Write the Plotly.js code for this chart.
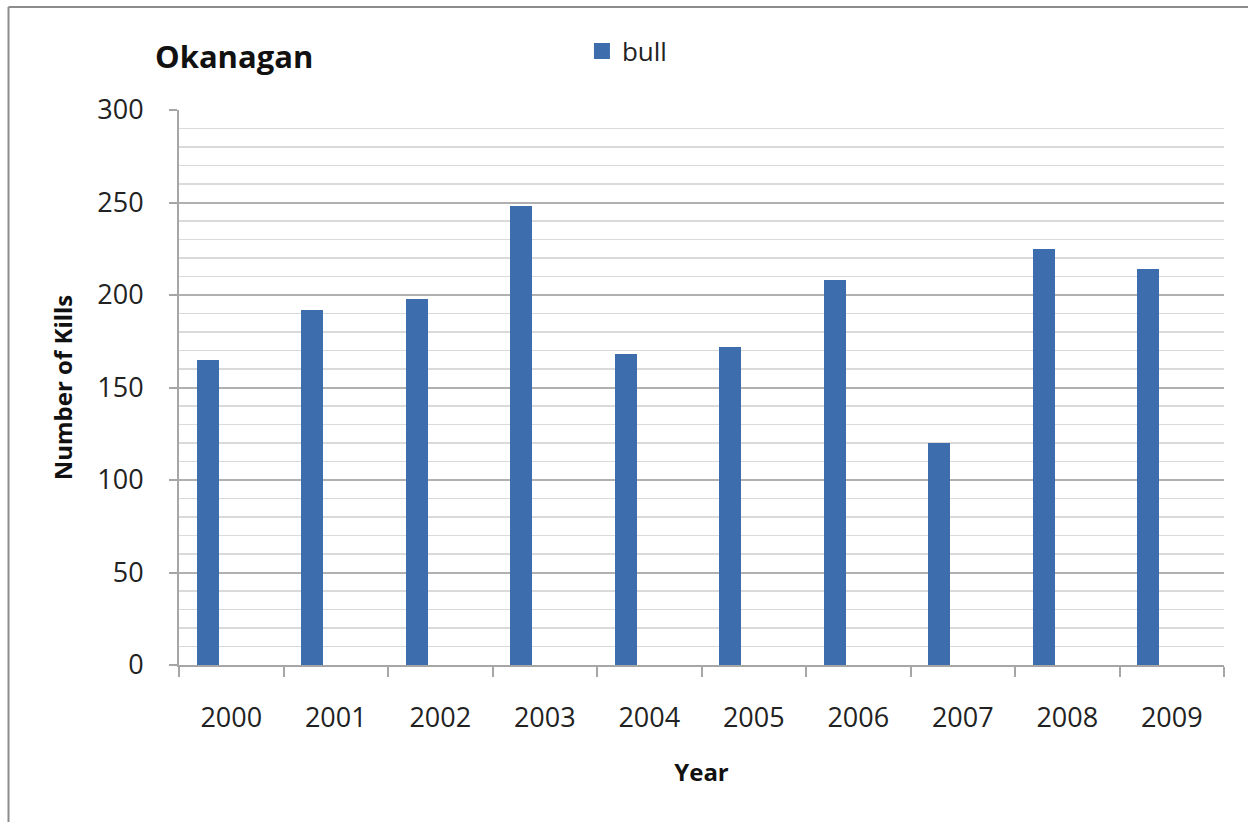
<!DOCTYPE html>
<html>
<head>
<meta charset="utf-8">
<script src="https://cdn.plot.ly/plotly-3.0.1.min.js"></script>
<style>
  html, body { margin: 0; padding: 0; background: #ffffff; }
  #chart { width: 1248px; height: 822px; }
</style>
</head>
<body>
<div id="chart"></div>
<script>
// Okanagan bull kills per year
const years = ['2000', '2001', '2002', '2003', '2004', '2005', '2006', '2007', '2008', '2009'];
const bullKills = [165, 192, 198, 248, 168, 172, 208, 120, 225, 214];
const seriesName = 'bull';
const yTicks = [0, 50, 100, 150, 200, 250, 300];

const FONT = 'Open Sans, Noto Sans, sans-serif';
const TEXT = '#404040';
const BAR = '#3D6DAC';

const trace = {
  type: 'bar',
  name: seriesName,
  x: years,
  y: bullKills,
  offset: -0.33,
  width: 0.21,
  marker: { color: BAR, line: { width: 0 } },
  hoverinfo: 'x+y'
};

const layout = {
  width: 1248,
  height: 822,
  margin: { l: 179, r: 24, t: 110, b: 157 },
  paper_bgcolor: '#ffffff',
  plot_bgcolor: '#ffffff',
  font: { family: FONT, color: TEXT },
  title: {
    text: 'Okanagan',
    font: { family: FONT, size: 31, color: '#111111', weight: 'bold' },
    xref: 'container', yref: 'container',
    x: 155 / 1248, xanchor: 'left',
    y: 1 - 57 / 822, yanchor: 'middle'
  },
  showlegend: true,
  legend: {
    orientation: 'h',
    x: 0.3856, xanchor: 'left',
    y: 1.106, yanchor: 'middle',
    font: { family: FONT, size: 26, color: '#222222' },
    bgcolor: 'rgba(0,0,0,0)'
  },
  xaxis: {
    type: 'category',
    categoryorder: 'array',
    categoryarray: years,
    range: [-0.5, years.length - 0.5],
    showline: true,
    linecolor: '#a6a6a6',
    linewidth: 2,
    ticks: 'outside',
    tickson: 'boundaries',
    ticklen: 10,
    tickwidth: 2,
    tickcolor: '#a6a6a6',
    ticklabelstandoff: 28,
    tickfont: { family: FONT, size: 27, color: '#222222' },
    showgrid: false,
    zeroline: false,
    fixedrange: true,
    title: {
      text: 'Year',
      font: { family: FONT, size: 24, color: '#111111', weight: 'bold' },
      standoff: 30
    }
  },
  yaxis: {
    range: [0, 300],
    tickvals: yTicks,
    ticktext: yTicks.map(String),
    showline: true,
    linecolor: '#a6a6a6',
    linewidth: 2,
    ticks: 'outside',
    ticklen: 8,
    tickwidth: 2,
    tickcolor: '#a6a6a6',
    ticklabelstandoff: 20,
    tickfont: { family: FONT, size: 27, color: '#222222' },
    showgrid: true,
    gridcolor: '#b0b0b0',
    gridwidth: 2,
    minor: {
      dtick: 10,
      showgrid: true,
      gridcolor: '#dadada',
      gridwidth: 1.5,
      ticks: ''
    },
    zeroline: false,
    fixedrange: true,
    title: {
      text: 'Number of Kills',
      font: { family: FONT, size: 24, color: '#111111', weight: 'bold' },
      standoff: 18
    }
  },
  bargap: 0,
  shapes: [
    // chart frame: left and top edges
    {
      type: 'line', xref: 'paper', yref: 'paper',
      x0: (8.5 - 179) / 1045, x1: (8.5 - 179) / 1045,
      y0: (665 - 830) / 555, y1: (665 - 7) / 555,
      line: { color: '#8c8c8c', width: 2 }
    },
    {
      type: 'line', xref: 'paper', yref: 'paper',
      x0: (8.5 - 179) / 1045, x1: (1260 - 179) / 1045,
      y0: (665 - 7) / 555, y1: (665 - 7) / 555,
      line: { color: '#8c8c8c', width: 2 }
    }
  ]
};

Plotly.newPlot('chart', [trace], layout, { displayModeBar: false, staticPlot: true })
  .then(function (gd) {
    // enlarge the legend swatch to a 16px square
    gd.querySelectorAll('.legend .legendpoints path').forEach(function (p) {
      p.setAttribute('d', 'M8,8H-8V-8H8Z');
    });
  });
</script>
</body>
</html>
